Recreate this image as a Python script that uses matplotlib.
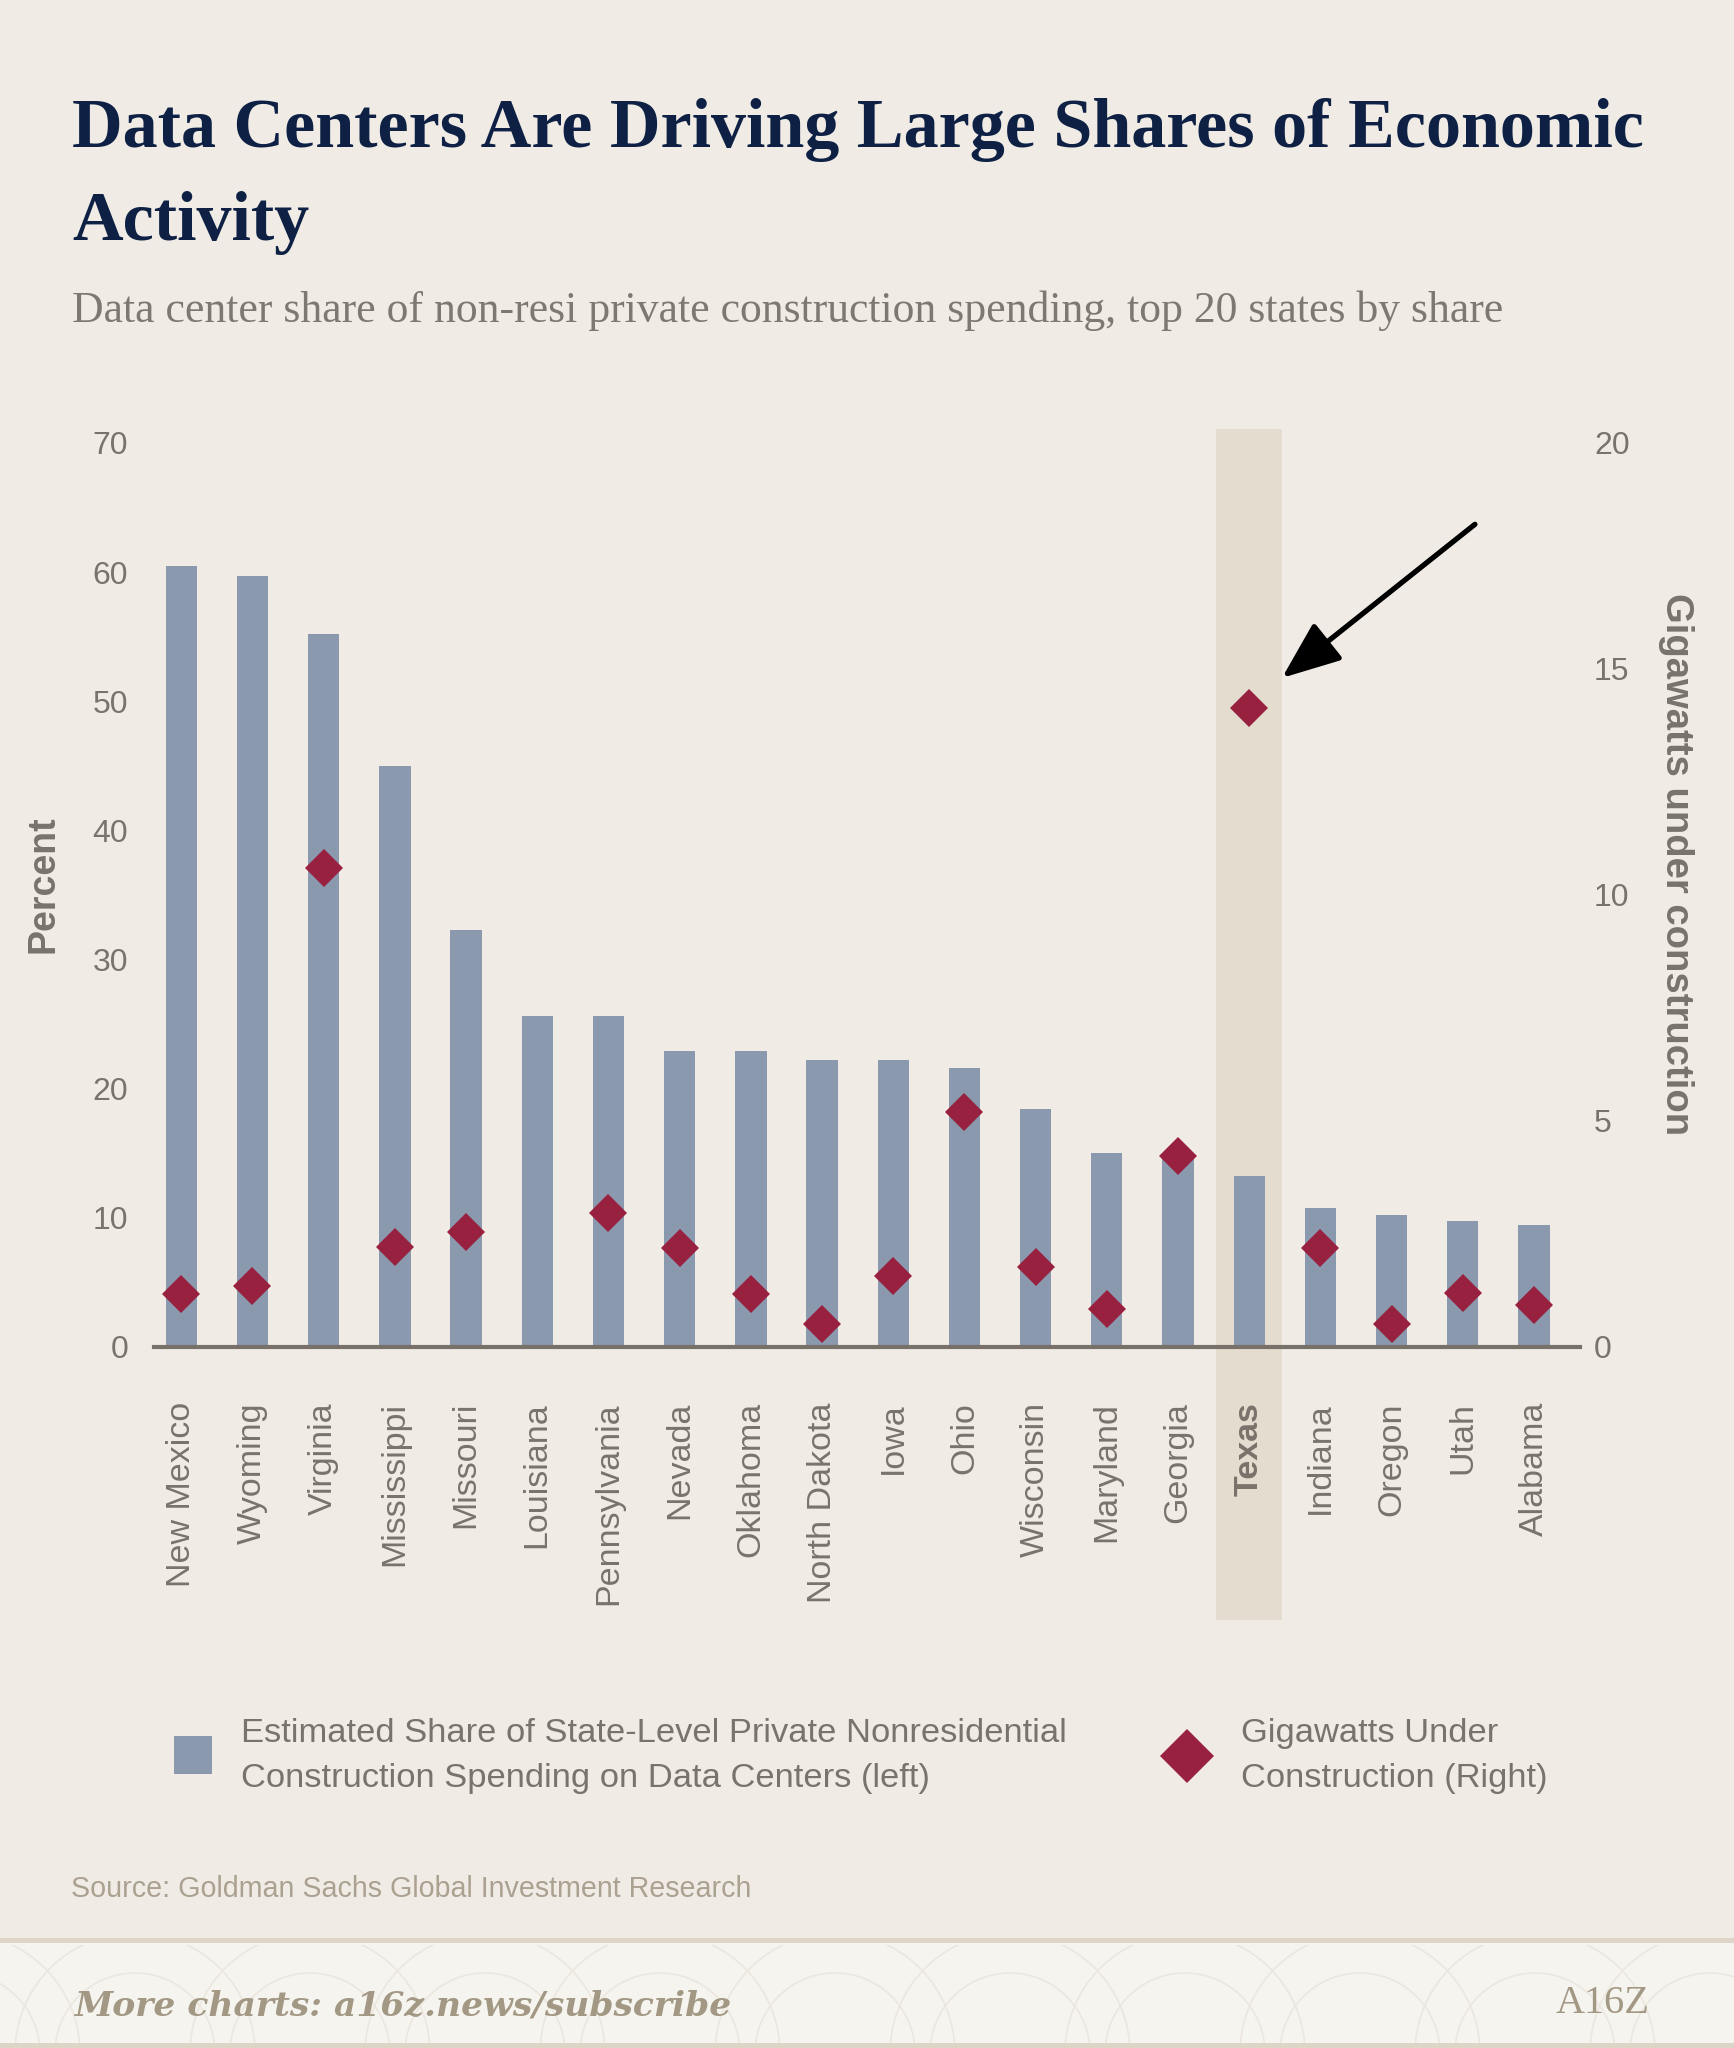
import matplotlib
matplotlib.use("Agg")
import numpy as np
import matplotlib.pyplot as plt
from matplotlib.patches import Rectangle, Circle
from matplotlib.lines import Line2D

# ---- data ----
states = ["New Mexico", "Wyoming", "Virginia", "Mississippi", "Missouri",
          "Louisiana", "Pennsylvania", "Nevada", "Oklahoma", "North Dakota",
          "Iowa", "Ohio", "Wisconsin", "Maryland", "Georgia", "Texas",
          "Indiana", "Oregon", "Utah", "Alabama"]
share_pct = [60.5, 59.7, 55.2, 45.0, 32.3, 25.6, 25.6, 22.9, 22.9, 22.2,
             22.2, 21.6, 18.4, 15.0, 14.8, 13.2, 10.7, 10.2, 9.7, 9.4]
gw_under_construction = [1.17, 1.35, 10.6, 2.2, 2.54, np.nan, 2.95, 2.18, 1.17, 0.51,
                         1.56, 5.19, 1.76, 0.83, 4.22, 14.14, 2.19, 0.51, 1.18, 0.92]
left_ticks = [0, 10, 20, 30, 40, 50, 60, 70]
right_ticks = [0, 5, 10, 15, 20]
highlight = "Texas"

title_lines = ["Data Centers Are Driving Large Shares of Economic", "Activity"]
subtitle = "Data center share of non-resi private construction spending, top 20 states by share"
bar_label = "Estimated Share of State-Level Private Nonresidential\nConstruction Spending on Data Centers (left)"
dot_label = "Gigawatts Under\nConstruction (Right)"
source = "Source: Goldman Sachs Global Investment Research"
footer = "More charts: a16z.news/subscribe"

# ---- colours ----
BG = "#F0ECE5"
BAR = "#8A99AD"
DIAMOND = "#97213F"
BAND = "#E4DDCF"
NAVY = "#0E2145"
TXT = "#79736B"
SUB = "#7E7871"
AXIS = "#77716A"
SRC = "#ABA191"
FOOT_BG = "#F6F4EF"
FOOT_LINE = "#DDD6C8"
FOOT_TXT = "#A39884"

plt.rcParams["font.family"] = ["Liberation Sans", "DejaVu Sans"]

W, H = 1734, 2048
fig = plt.figure(figsize=(W / 100, H / 100), dpi=100, facecolor=BG)


def fx(px):
    return px / W


def fy(px):
    return 1 - px / H


# ---- main axes ----
ax = fig.add_axes([0.0888, 0.3425, 0.8224, 0.4412])
ax.set_facecolor("none")
x = np.arange(len(states))
ax.bar(x, share_pct, width=0.44, color=BAR, zorder=2)
ax.set_xlim(-0.383, 19.646)
ax.set_ylim(0, 70)
ax.set_yticks(left_ticks)
for side in ["top", "left", "right"]:
    ax.spines[side].set_visible(False)
ax.spines["bottom"].set_color(AXIS)
ax.spines["bottom"].set_linewidth(3)
ax.spines["bottom"].set_zorder(4)
ax.tick_params(axis="y", length=0, pad=18.5, labelsize=23, labelcolor=TXT)
ax.tick_params(axis="x", length=0, pad=40, labelsize=24.5, labelcolor=TXT)
ax.set_xticks(x)
ax.set_xticklabels(states, rotation=90, ha="center", va="top")
for lab in ax.get_xticklabels():
    if lab.get_text() == highlight:
        lab.set_fontweight("bold")

# highlight band behind Texas
hi = states.index(highlight)
ax.add_patch(Rectangle((hi - 0.463, -21.2), 0.926, 92.3, facecolor=BAND,
                       edgecolor="none", zorder=0, clip_on=False))

# ---- right axis ----
ax2 = ax.twinx()
ax2.set_ylim(0, 20)
ax2.set_yticks(right_ticks)
for side in ["top", "left", "right", "bottom"]:
    ax2.spines[side].set_visible(False)
ax2.tick_params(axis="y", length=0, pad=10, labelsize=23, labelcolor=TXT)
ax2.plot(x, gw_under_construction, linestyle="none", marker="D", markersize=19.5,
         markeredgewidth=0, color=DIAMOND, zorder=3)

ax2.annotate("", xy=(15.46, 14.8), xytext=(18.17, 18.2),
             arrowprops=dict(arrowstyle="-|>,head_length=0.45,head_width=0.18",
                             mutation_scale=80, lw=3.8, color="black",
                             shrinkA=0, shrinkB=0))

fig.text(fx(44), fy(884), "Percent", rotation=90, ha="center", va="center",
         fontsize=27, fontweight="bold", color=TXT)
fig.text(fx(1676), fy(864), "Gigawatts under construction", rotation=-90,
         ha="center", va="center", fontsize=27.5, fontweight="bold", color=TXT)

# ---- titles ----
fig.text(fx(72), fy(147), title_lines[0], family="Liberation Serif",
         fontweight="bold", fontsize=50.5, color=NAVY, va="baseline")
fig.text(fx(72), fy(240), title_lines[1], family="Liberation Serif",
         fontweight="bold", fontsize=50.5, color=NAVY, va="baseline")
fig.text(fx(72), fy(322), subtitle, family="Liberation Serif",
         fontsize=31.5, color=SUB, va="baseline")

# ---- legend ----
fig.add_artist(Line2D([fx(193)], [fy(1755)], marker="s", markersize=28,
                      markeredgewidth=0, color=BAR, transform=fig.transFigure))
fig.text(fx(241), fy(1756), bar_label, va="center", fontsize=24.8,
         linespacing=1.55, color=TXT)
fig.add_artist(Line2D([fx(1187)], [fy(1756)], marker="D", markersize=27.5,
                      markeredgewidth=0, color=DIAMOND, transform=fig.transFigure))
fig.text(fx(1241), fy(1756), dot_label, va="center", fontsize=24.8,
         linespacing=1.55, color=TXT)

fig.text(fx(71), fy(1897), source, va="baseline", fontsize=20.6, color=SRC)

# ---- footer ----
fig.add_artist(Rectangle((0, 0), 1, (H - 1940) / H, transform=fig.transFigure,
                         facecolor=FOOT_BG, edgecolor="none", zorder=0))
fig.add_artist(Rectangle((0, fy(1943)), 1, 5 / H, transform=fig.transFigure,
                         facecolor=FOOT_LINE, edgecolor="none", zorder=1))
fig.add_artist(Rectangle((0, 0), 1, 5 / H, transform=fig.transFigure,
                         facecolor=FOOT_LINE, edgecolor="none", zorder=1))

fax = fig.add_axes([0, 5 / H, 1, 98 / H])
fax.set_xlim(0, W)
fax.set_ylim(0, 98)
fax.set_facecolor("none")
for s in fax.spines.values():
    s.set_visible(False)
fax.set_xticks([])
fax.set_yticks([])
for cx in range(-40, W + 200, 175):
    for r in (120, 80):
        fax.add_patch(Circle((cx, -10), r, fill=False, edgecolor="#ECE7DE", lw=1.2))

fig.text(fx(75), fy(2015), footer, family="DejaVu Serif", fontweight="bold",
         style="italic", fontsize=24.8, color=FOOT_TXT, va="baseline")
fig.text(fx(1556), fy(2013), "A16Z", family="Liberation Serif", fontsize=29,
         color=FOOT_TXT, va="baseline")

fig.savefig("out.png", dpi=100, facecolor=BG)
